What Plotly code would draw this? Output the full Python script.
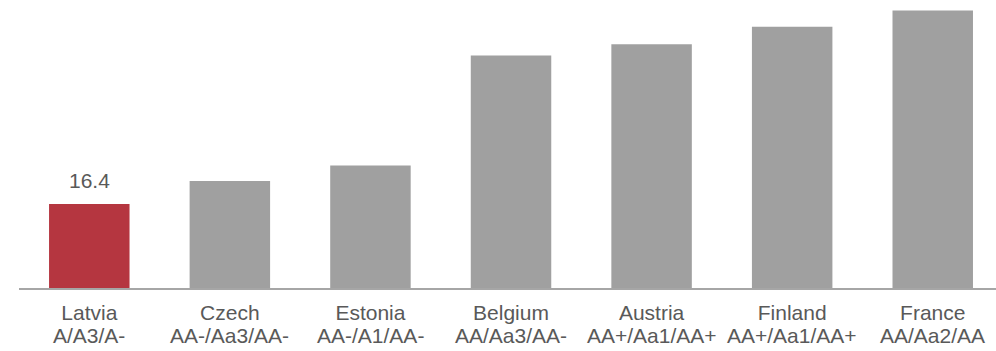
import plotly.graph_objects as go

countries = ["Latvia", "Czech", "Estonia", "Belgium", "Austria", "Finland", "France"]
ratings = ["A/A3/A-", "AA-/Aa3/AA-", "AA-/A1/AA-", "AA/Aa3/AA-", "AA+/Aa1/AA+", "AA+/Aa1/AA+", "AA/Aa2/AA"]
values = [16.4, 20.9, 23.9, 45.4, 47.6, 51.0, 54.2]

text_grey = "#595959"
colours = ["#b53640" if c == "Latvia" else "#a0a0a0" for c in countries]

fig = go.Figure()
fig.add_trace(
    go.Bar(
        x=countries,
        y=values,
        marker=dict(color=colours, line_width=0),
        hoverinfo="skip",
    )
)

# only the highlighted country gets a value label
fig.add_annotation(
    x=countries[0],
    y=values[0],
    text=f"{values[0]:.1f}",
    showarrow=False,
    yanchor="bottom",
    yshift=10,
    font=dict(size=21, color=text_grey),
)

# rating line under each country name (tighter spacing than a <br> tick label)
for c, r in zip(countries, ratings):
    fig.add_annotation(
        x=c,
        y=0,
        yref="paper",
        text=r,
        showarrow=False,
        yanchor="top",
        yshift=-34,
        font=dict(size=21, color=text_grey),
    )

fig.update_layout(
    width=996,
    height=351,
    margin=dict(l=19, r=0, t=0, b=63),
    paper_bgcolor="white",
    plot_bgcolor="white",
    bargap=0.4275,
    showlegend=False,
    font=dict(family="Liberation Sans, Arial, sans-serif", color=text_grey),
    xaxis=dict(
        range=[-0.5, 6.45],
        tickfont=dict(size=21, color=text_grey),
        showline=True,
        linecolor="#a6a6a6",
        linewidth=2,
        ticks="outside",
        ticklen=5,
        tickcolor="rgba(0,0,0,0)",
        showgrid=False,
        fixedrange=True,
    ),
    yaxis=dict(
        range=[0, 56.23],
        visible=False,
        showgrid=False,
        zeroline=False,
        fixedrange=True,
    ),
)

fig.write_html(
    "out.html",
    config={"displayModeBar": False},
    post_script="document.body.style.margin='0';",
)
